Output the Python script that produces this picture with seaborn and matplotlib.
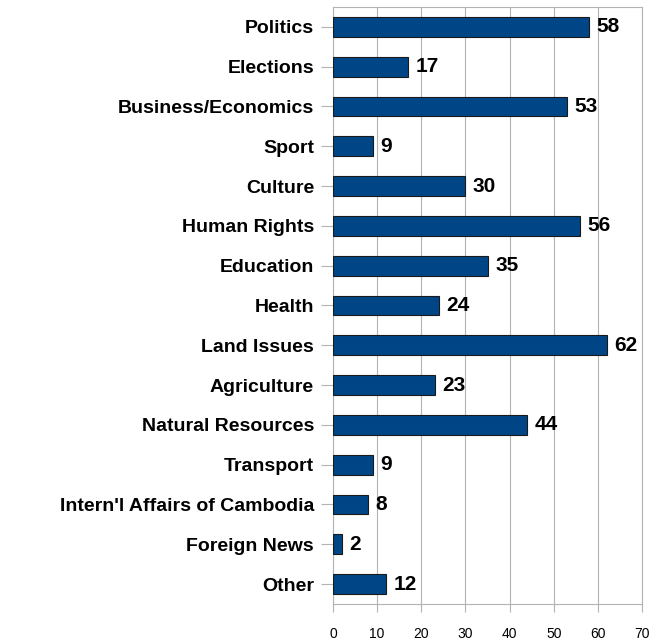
import matplotlib
matplotlib.use("Agg")
import matplotlib.pyplot as plt
import seaborn as sns
import pandas as pd

categories = ["Politics", "Elections", "Business/Economics", "Sport", "Culture",
              "Human Rights", "Education", "Health", "Land Issues", "Agriculture",
              "Natural Resources", "Transport", "Intern'l Affairs of Cambodia",
              "Foreign News", "Other"]
counts = [58, 17, 53, 9, 30, 56, 35, 24, 62, 23, 44, 9, 8, 2, 12]
x_ticks = [0, 10, 20, 30, 40, 50, 60, 70]

df = pd.DataFrame({"topic": categories, "count": counts})

sns.set_theme(style="white")
plt.rcParams["font.family"] = ["Liberation Sans", "DejaVu Sans"]

fig = plt.figure(figsize=(6.65, 6.43), dpi=100)
ax = fig.add_axes([333 / 665, 1 - 604 / 643, (642 - 333) / 665, (604 - 7) / 643])

sns.barplot(data=df, x="count", y="topic", orient="h", color="#004586",
            saturation=1, width=0.5, edgecolor="#1a1a1a", linewidth=0.8,
            ax=ax, zorder=3)

for i, v in enumerate(counts):
    ax.text(v + 1.7, i, str(v), va="center", ha="left",
            fontsize=15, fontweight="bold", color="black")

ax.set_xlim(0, 70)
ax.set_xticks(x_ticks)
ax.set_xticklabels([str(t) for t in x_ticks], fontsize=10, color="black")
ax.set_ylim(14.5, -0.5)
ax.set_xlabel("")
ax.set_ylabel("")
for lbl in ax.get_yticklabels():
    lbl.set_fontweight("bold")
    lbl.set_fontsize(14)
    lbl.set_color("black")

ax.grid(axis="x", color="#b3b3b3", linewidth=0.8, zorder=0)
ax.set_axisbelow(True)
for s in ax.spines.values():
    s.set_color("#b3b3b3")
    s.set_linewidth(0.8)
ax.tick_params(axis="y", length=8.6, width=0.8, color="#b3b3b3",
               direction="out", left=True, pad=5)
ax.tick_params(axis="x", length=5.8, width=0.8, color="#b3b3b3",
               direction="out", bottom=True, pad=11)

fig.savefig("out.png", dpi=100)
